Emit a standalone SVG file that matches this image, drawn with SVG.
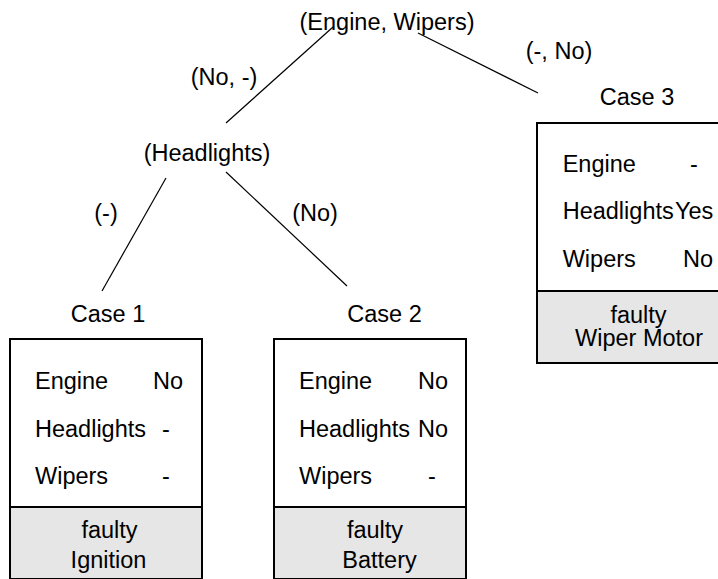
<svg xmlns="http://www.w3.org/2000/svg" width="718" height="579" viewBox="0 0 718 579">
<style>
text{font-family:"Liberation Sans",Arial,Helvetica,sans-serif;font-size:23.5px;fill:#000}
.c{text-anchor:middle}
.box{fill:#fff;stroke:#000;stroke-width:2}
.foot{fill:#e6e6e6;stroke:#000;stroke-width:2}
.edge{stroke:#000;stroke-width:1.2;fill:none}
</style>
<rect width="718" height="579" fill="#fff"/>
<g id="connectors">
<line class="edge" x1="333" y1="27" x2="226" y2="123"/>
<line class="edge" x1="418" y1="33" x2="538" y2="93"/>
<line class="edge" x1="166" y1="178" x2="102" y2="291"/>
<line class="edge" x1="226" y1="172" x2="347" y2="286"/>
<text class="c" x="224" y="85">(No, -)</text>
<text class="c" x="559" y="59">(-, No)</text>
<text class="c" x="106" y="221">(-)</text>
<text class="c" x="315" y="221">(No)</text>
</g>
<g id="root"><text class="c" x="387" y="30">(Engine, Wipers)</text></g>
<g id="headlights"><text class="c" x="207" y="161">(Headlights)</text></g>
<g id="case1">
<text class="c" x="108" y="322">Case 1</text>
<rect class="box" x="10" y="339" width="192" height="168"/>
<rect class="foot" x="10" y="507" width="192" height="72"/>
<text x="35" y="389">Engine</text><text x="153" y="389">No</text>
<text x="35" y="436.5">Headlights</text><text x="162" y="436.5">-</text>
<text x="35" y="484">Wipers</text><text x="162" y="484">-</text>
<text class="c" x="109.5" y="537.7">faulty</text>
<text class="c" x="108.5" y="567.7">Ignition</text>
</g>
<g id="case2">
<text class="c" x="384.5" y="322">Case 2</text>
<rect class="box" x="274" y="339" width="192" height="168"/>
<rect class="foot" x="274" y="507" width="192" height="72"/>
<text x="299" y="389">Engine</text><text x="418" y="389">No</text>
<text x="299" y="436.5">Headlights</text><text x="418" y="436.5">No</text>
<text x="299" y="484">Wipers</text><text x="428" y="484">-</text>
<text class="c" x="375" y="537.7">faulty</text>
<text class="c" x="379.5" y="567.7">Battery</text>
</g>
<g id="case3">
<text class="c" x="637" y="105">Case 3</text>
<rect class="box" x="537" y="123" width="192" height="168"/>
<rect class="foot" x="537" y="291" width="192" height="72"/>
<text x="562.7" y="171.7">Engine</text><text x="690" y="171.7">-</text>
<text x="562.7" y="219.3">Headlights</text><text x="675" y="219.3">Yes</text>
<text x="562.7" y="266.7">Wipers</text><text x="683" y="266.7">No</text>
<text class="c" x="638.5" y="322.7">faulty</text>
<text class="c" x="639" y="346">Wiper Motor</text>
</g>
</svg>
